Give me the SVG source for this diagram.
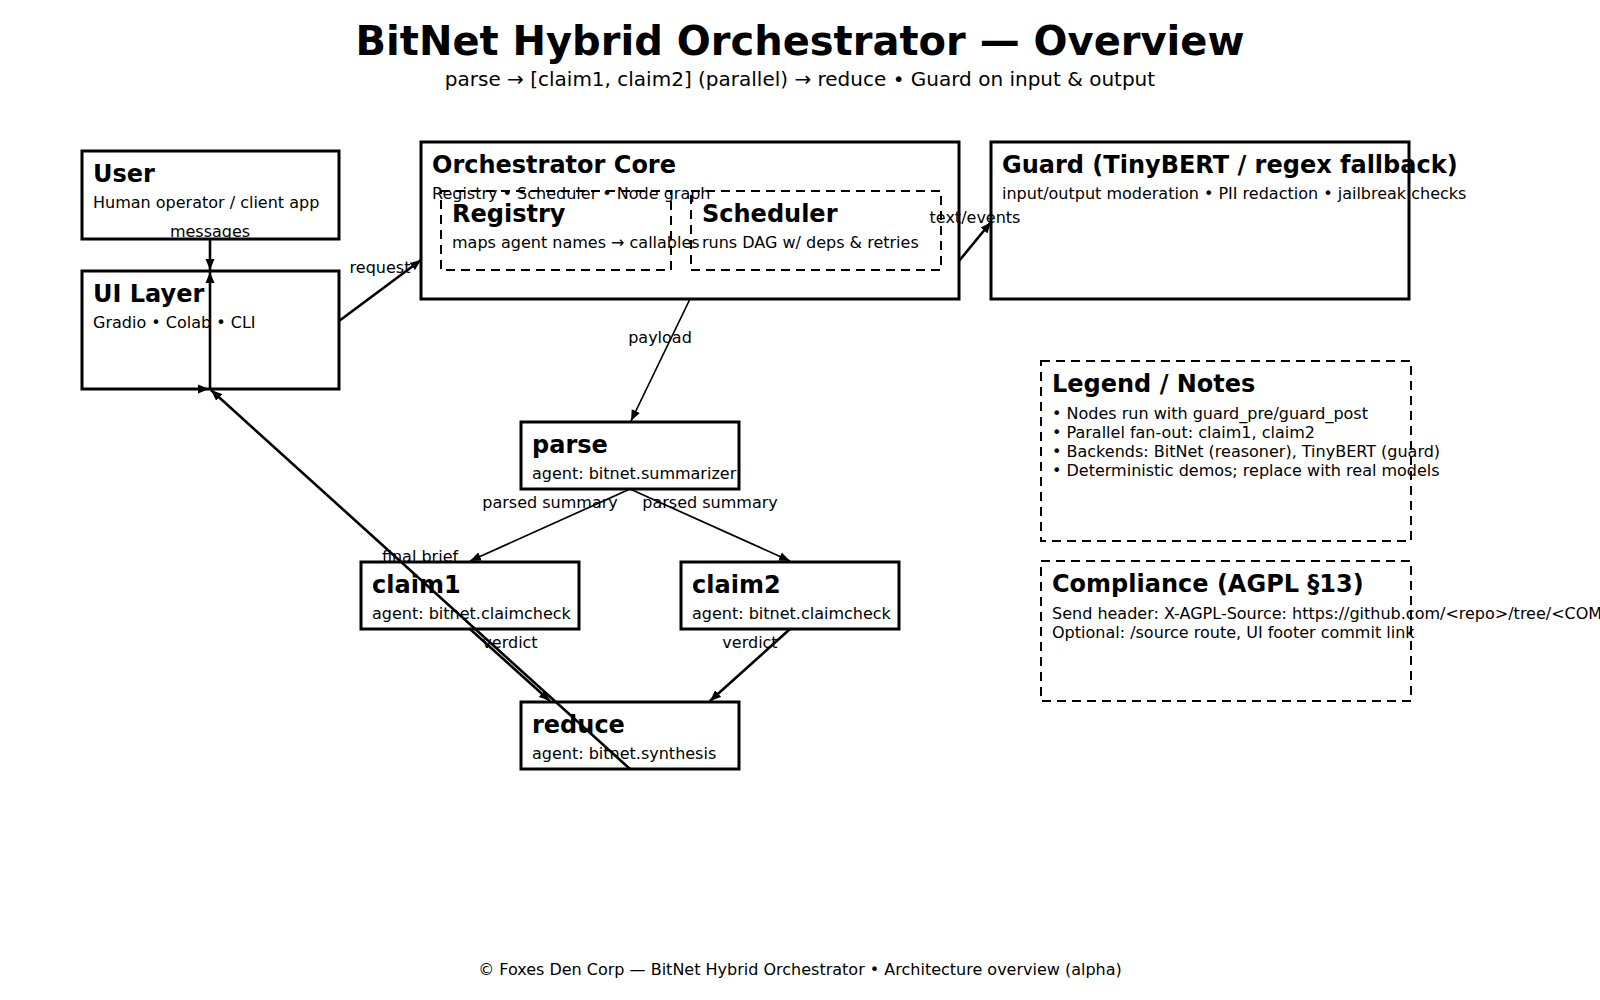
<svg xmlns="http://www.w3.org/2000/svg" width="1600" height="1000" viewBox="0 0 1600 1000">
<style>
text{font-family:"DejaVu Sans","Liberation Sans",sans-serif;fill:#000}
.h1{font-size:40px;font-weight:bold}
.h2{font-size:20px}
.t{font-size:24px;font-weight:bold}
.s{font-size:16px}
.lbl{font-size:16px;text-anchor:middle}
.box{fill:#fff;stroke:#000;stroke-width:3}
.dbox{fill:none;stroke:#000;stroke-width:2;stroke-dasharray:9 6}
.e{stroke:#000;stroke-width:2.6;fill:none;marker-end:url(#arr)}
.e2{stroke:#000;stroke-width:1.7;fill:none;marker-end:url(#arr)}
</style>
<defs>
<marker id="arr" markerUnits="userSpaceOnUse" markerWidth="12" markerHeight="10" refX="11" refY="5" orient="auto" viewBox="0 0 12 10">
<path d="M0,0.5 L11,5 L0,9.5 z" fill="#000"/>
</marker>
</defs>
<rect width="1600" height="1000" fill="#fff"/>
<text class="h1" x="800" y="55" text-anchor="middle">BitNet Hybrid Orchestrator — Overview</text>
<text class="h2" x="800" y="86" text-anchor="middle">parse → [claim1, claim2] (parallel) → reduce • Guard on input &amp; output</text>

<g id="user">
<rect class="box" x="82" y="151" width="257" height="88"/>
<text class="t" x="93" y="182">User</text>
<text class="s" x="93" y="208">Human operator / client app</text>
</g>
<g id="ui">
<rect class="box" x="82" y="271" width="257" height="118"/>
<text class="t" x="93" y="302">UI Layer</text>
<text class="s" x="93" y="328">Gradio • Colab • CLI</text>
</g>
<g id="core">
<rect class="box" x="421" y="142" width="538" height="157"/>
<text class="t" x="432" y="173">Orchestrator Core</text>
<text class="s" x="432" y="199">Registry • Scheduler • Node graph</text>
</g>
<g id="registry">
<rect class="dbox" x="441" y="191" width="230" height="79"/>
<text class="t" x="452" y="222">Registry</text>
<text class="s" x="452" y="248">maps agent names → callables</text>
</g>
<g id="scheduler">
<rect class="dbox" x="691" y="191" width="250" height="79"/>
<text class="t" x="702" y="222">Scheduler</text>
<text class="s" x="702" y="248">runs DAG w/ deps &amp; retries</text>
</g>
<g id="guard">
<rect class="box" x="991" y="142" width="418" height="157"/>
<text class="t" x="1002" y="173">Guard (TinyBERT / regex fallback)</text>
<text class="s" x="1002" y="199">input/output moderation • PII redaction • jailbreak checks</text>
</g>
<g id="parse">
<rect class="box" x="521" y="422" width="218" height="67"/>
<text class="t" x="532" y="453">parse</text>
<text class="s" x="532" y="479">agent: bitnet.summarizer</text>
</g>
<g id="claim1">
<rect class="box" x="361" y="562" width="218" height="67"/>
<text class="t" x="372" y="593">claim1</text>
<text class="s" x="372" y="619">agent: bitnet.claimcheck</text>
</g>
<g id="claim2">
<rect class="box" x="681" y="562" width="218" height="67"/>
<text class="t" x="692" y="593">claim2</text>
<text class="s" x="692" y="619">agent: bitnet.claimcheck</text>
</g>
<g id="reduce">
<rect class="box" x="521" y="702" width="218" height="67"/>
<text class="t" x="532" y="733">reduce</text>
<text class="s" x="532" y="759">agent: bitnet.synthesis</text>
</g>
<g id="legend">
<rect class="dbox" x="1041" y="361" width="370" height="180"/>
<text class="t" x="1052" y="392">Legend / Notes</text>
<text class="s" x="1052" y="419">• Nodes run with guard_pre/guard_post</text>
<text class="s" x="1052" y="438">• Parallel fan-out: claim1, claim2</text>
<text class="s" x="1052" y="457">• Backends: BitNet (reasoner), TinyBERT (guard)</text>
<text class="s" x="1052" y="476">• Deterministic demos; replace with real models</text>
</g>
<g id="compliance">
<rect class="dbox" x="1041" y="561" width="370" height="140"/>
<text class="t" x="1052" y="592">Compliance (AGPL §13)</text>
<text class="s" x="1052" y="619">Send header: X-AGPL-Source: https://github.com/&lt;repo&gt;/tree/&lt;COMMIT&gt;</text>
<text class="s" x="1052" y="638">Optional: /source route, UI footer commit link</text>
</g>

<g id="connectors">
<line class="e" x1="210" y1="239" x2="210" y2="270"/>
<line class="e" x1="339" y1="321" x2="421" y2="260"/>
<line class="e" x1="959" y1="261" x2="991" y2="222"/>
<line class="e2" x1="690" y1="299" x2="631" y2="421"/>
<line class="e2" x1="630" y1="489" x2="470" y2="561"/>
<line class="e2" x1="630" y1="489" x2="790" y2="561"/>
<line class="e" x1="470" y1="629" x2="550" y2="701"/>
<line class="e" x1="790" y1="629" x2="710" y2="701"/>
<line class="e" x1="630" y1="769" x2="211" y2="390"/>
<line class="e" x1="210" y1="389" x2="210" y2="272"/>
<path d="M198,384.5 L209,389 L198,393.5 z" fill="#000"/>
<text class="lbl" x="210" y="237">messages</text>
<text class="lbl" x="380" y="273">request</text>
<text class="lbl" x="975" y="223">text/events</text>
<text class="lbl" x="660" y="343">payload</text>
<text class="lbl" x="550" y="508">parsed summary</text>
<text class="lbl" x="710" y="508">parsed summary</text>
<text class="lbl" x="510" y="648">verdict</text>
<text class="lbl" x="750" y="648">verdict</text>
<text class="lbl" x="420" y="562">final brief</text>
</g>

<text class="s" x="800" y="975" text-anchor="middle">© Foxes Den Corp — BitNet Hybrid Orchestrator • Architecture overview (alpha)</text>
</svg>
